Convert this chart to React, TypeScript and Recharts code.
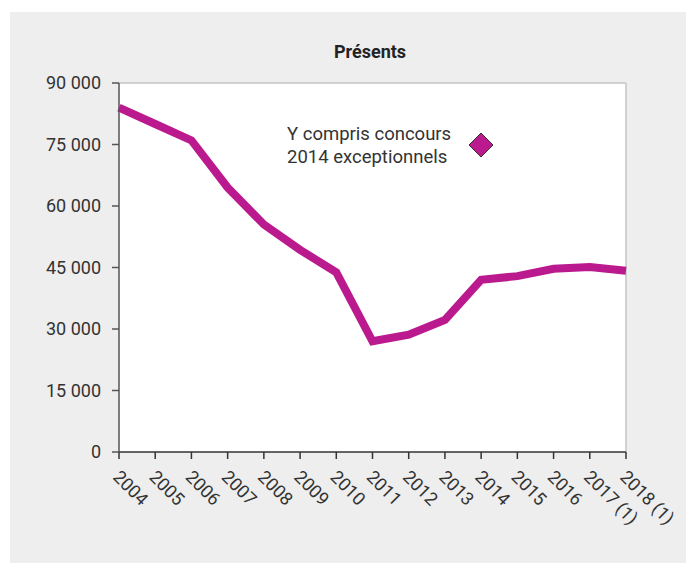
import { LineChart, Line, XAxis, YAxis, ReferenceLine } from "recharts";

const years = [
  "2004", "2005", "2006", "2007", "2008", "2009", "2010", "2011",
  "2012", "2013", "2014", "2015", "2016", "2017 (1)", "2018 (1)",
];
const presents = [
  84000, 80000, 76000, 64500, 55500, 49300, 43800, 27000,
  28600, 32200, 42000, 42900, 44700, 45100, 44200,
];
const yTicks = [0, 15000, 30000, 45000, 60000, 75000, 90000];

const data = years.map((year, i) => ({ year, presents: presents[i] }));

const fmt = (v: number) =>
  v === 0 ? "0" : `${Math.floor(v / 1000)} ${String(v % 1000).padStart(3, "0")}`;

const font = "Roboto, 'Noto Sans', sans-serif";

// rotated year labels, text starts at the tick and runs down-right
const XTick = (props: any) => {
  const { x, y, payload } = props;
  return (
    <g transform={`translate(${x + 2},${y + 8}) rotate(45)`}>
      <text x={0} y={0} dy="0.71em" textAnchor="start" fill="#333" fontSize={18} fontFamily={font}>
        {payload.value}
      </text>
    </g>
  );
};

const App = () => {
  return (
    <div
      style={{
        position: "absolute",
        left: 10,
        top: 12,
        width: 676,
        height: 551,
        background: "#eeeeee",
        fontFamily: font,
      }}
    >
      <div
        style={{
          position: "absolute",
          left: 0,
          width: 720,
          top: 29,
          textAlign: "center",
          fontWeight: 700,
          fontSize: 18,
          color: "#222",
        }}
      >
        Présents
      </div>
      <LineChart width={676} height={551} data={data} margin={{ top: 71, right: 60, left: 0, bottom: 0 }}>
        {/* white plot area with light border */}
        <rect x={109} y={71} width={507} height={369} fill="#fff" stroke="none" />
        <ReferenceLine y={90000} stroke="#c4c4c4" strokeWidth={1.5} />
        <ReferenceLine x="2018 (1)" stroke="#c4c4c4" strokeWidth={1.5} />
        <XAxis
          dataKey="year"
          interval={0}
          height={111}
          stroke="#333"
          strokeWidth={1.5}
          tickSize={7}
          tick={<XTick />}
        />
        <YAxis
          width={109}
          domain={[0, 90000]}
          ticks={yTicks}
          tickFormatter={fmt}
          stroke="#555"
          strokeWidth={1.5}
          tickSize={7}
          tickMargin={11}
          tick={{ fill: "#333", fontSize: 18, fontFamily: font }}
        />
        <Line
          type="linear"
          dataKey="presents"
          stroke="#bb1a8e"
          strokeWidth={8}
          dot={false}
          isAnimationActive={false}
        />
      </LineChart>
      <div
        style={{
          position: "absolute",
          left: 277,
          top: 111,
          fontSize: 18.5,
          lineHeight: "23px",
          color: "#333",
        }}
      >
        Y compris concours
        <br />
        2014 exceptionnels
      </div>
      <svg style={{ position: "absolute", left: 458, top: 120 }} width={26} height={26}>
        <polygon points="13,1 25,13 13,25 1,13" fill="#bb1a8e" stroke="#333" strokeWidth={1} />
      </svg>
    </div>
  );
};

export default App;
